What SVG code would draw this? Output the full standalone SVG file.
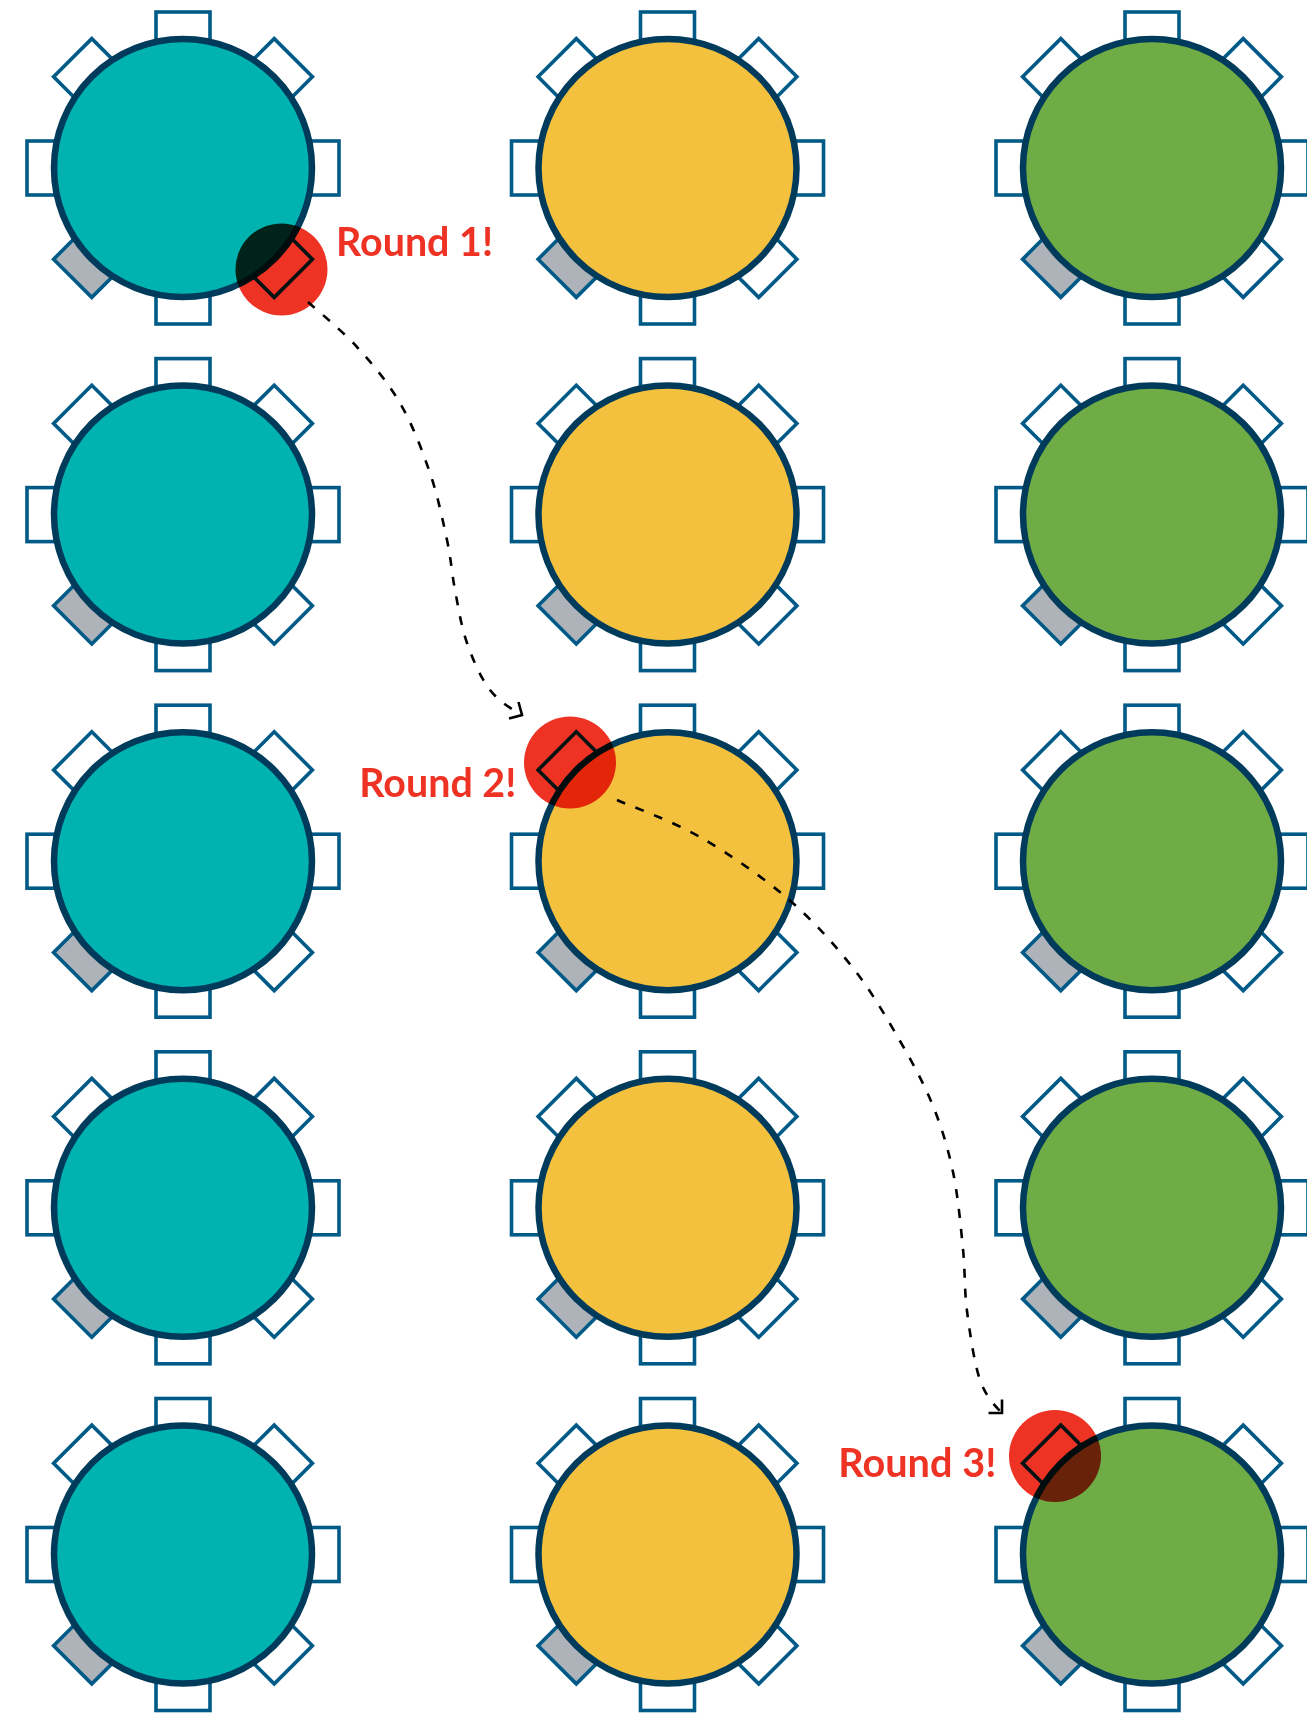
<svg xmlns="http://www.w3.org/2000/svg" xmlns:xlink="http://www.w3.org/1999/xlink" width="1307" height="1714" viewBox="0 0 1307 1714">
<style>
.chair{fill:#ffffff;stroke:#005a87;stroke-width:3.6}
.chair.used{fill:#adb3b8}
.table{stroke:#003b5c;stroke-width:6.5}
.teal{fill:#00b3b0}
.yellow{fill:#f4c13f}
.green{fill:#6fac45}
.hl{fill:#ee3224;mix-blend-mode:multiply}
.lbl{fill:#ee3224;font-family:Lato,"Noto Sans","Liberation Sans",sans-serif;font-weight:700;font-size:40.5px}
.conn{fill:none;stroke:#000000;stroke-width:2.6;stroke-dasharray:9 11}
</style>
<defs>
<g id="chairs">
<rect class="chair" x="-27" y="-156" width="54" height="54"/>
<rect class="chair" x="-27" y="102" width="54" height="54"/>
<rect class="chair" x="-156" y="-27" width="54" height="54"/>
<rect class="chair" x="102" y="-27" width="54" height="54"/>
<rect class="chair" x="-27" y="-156" width="54" height="54" transform="rotate(45)"/>
<rect class="chair" x="-27" y="-156" width="54" height="54" transform="rotate(-45)"/>
<rect class="chair" x="-27" y="-156" width="54" height="54" transform="rotate(135)"/>
<rect class="chair used" x="-27" y="-156" width="54" height="54" transform="rotate(-135)"/>
</g>
<marker id="arrow" viewBox="-12 -12 14 24" markerWidth="14" markerHeight="24" refX="0" refY="0" orient="auto" markerUnits="userSpaceOnUse">
<path d="M -9.5 -9.5 L 0 0 L -9.5 9.5" fill="none" stroke="#000000" stroke-width="2.6"/>
</marker>
</defs>

<g id="tables">
<g id="table-1-1" transform="translate(183,168)"><use xlink:href="#chairs"/><circle class="table teal" r="129"/></g>
<g id="table-2-1" transform="translate(183,514.6)"><use xlink:href="#chairs"/><circle class="table teal" r="129"/></g>
<g id="table-3-1" transform="translate(183,861.2)"><use xlink:href="#chairs"/><circle class="table teal" r="129"/></g>
<g id="table-4-1" transform="translate(183,1207.8)"><use xlink:href="#chairs"/><circle class="table teal" r="129"/></g>
<g id="table-5-1" transform="translate(183,1554.5)"><use xlink:href="#chairs"/><circle class="table teal" r="129"/></g>

<g id="table-1-2" transform="translate(667.5,168)"><use xlink:href="#chairs"/><circle class="table yellow" r="129"/></g>
<g id="table-2-2" transform="translate(667.5,514.6)"><use xlink:href="#chairs"/><circle class="table yellow" r="129"/></g>
<g id="table-3-2" transform="translate(667.5,861.2)"><use xlink:href="#chairs"/><circle class="table yellow" r="129"/></g>
<g id="table-4-2" transform="translate(667.5,1207.8)"><use xlink:href="#chairs"/><circle class="table yellow" r="129"/></g>
<g id="table-5-2" transform="translate(667.5,1554.5)"><use xlink:href="#chairs"/><circle class="table yellow" r="129"/></g>

<g id="table-1-3" transform="translate(1152,168)"><use xlink:href="#chairs"/><circle class="table green" r="129"/></g>
<g id="table-2-3" transform="translate(1152,514.6)"><use xlink:href="#chairs"/><circle class="table green" r="129"/></g>
<g id="table-3-3" transform="translate(1152,861.2)"><use xlink:href="#chairs"/><circle class="table green" r="129"/></g>
<g id="table-4-3" transform="translate(1152,1207.8)"><use xlink:href="#chairs"/><circle class="table green" r="129"/></g>
<g id="table-5-3" transform="translate(1152,1554.5)"><use xlink:href="#chairs"/><circle class="table green" r="129"/></g>
</g>

<g id="connectors">
<path class="conn" marker-end="url(#arrow)" d="M308,302 C316.2,309.5 341.7,330.2 357,347 C372.3,363.8 387.8,382 400,403 C412.2,424 422.2,450.2 430,473 C437.8,495.8 442.8,520.5 447,540 C451.2,559.5 451.7,572.8 455,590 C458.3,607.2 461.2,626.3 467,643 C472.8,659.7 480.8,678 490,690 C499.2,702 513.3,710 522,715"/>
<path class="conn" marker-end="url(#arrow)" d="M617,800 C630.8,806.2 671.7,820.7 700,837 C728.3,853.3 761.5,876.2 787,898 C812.5,919.8 834.2,944.2 853,968 C871.8,991.8 886.7,1018 900,1041 C913.3,1064 924.2,1084.2 933,1106 C941.8,1127.8 948,1148.2 953,1172 C958,1195.8 960.7,1225.8 963,1249 C965.3,1272.2 964.2,1289.2 967,1311 C969.8,1332.8 974.2,1363 980,1380 C985.8,1397 997,1408 1002,1413"/>
</g>

<g id="round-1">
<circle class="hl" cx="281.5" cy="269.4" r="46"/>
<text class="lbl" x="336" y="255.5" textLength="157" lengthAdjust="spacingAndGlyphs">Round 1!</text>
</g>
<g id="round-2">
<circle class="hl" cx="570" cy="762.5" r="46"/>
<text class="lbl" x="359.3" y="797.3" textLength="157" lengthAdjust="spacingAndGlyphs">Round 2!</text>
</g>
<g id="round-3">
<circle class="hl" cx="1055" cy="1456" r="46"/>
<text class="lbl" x="838.3" y="1477.3" textLength="158" lengthAdjust="spacingAndGlyphs">Round 3!</text>
</g>
</svg>
